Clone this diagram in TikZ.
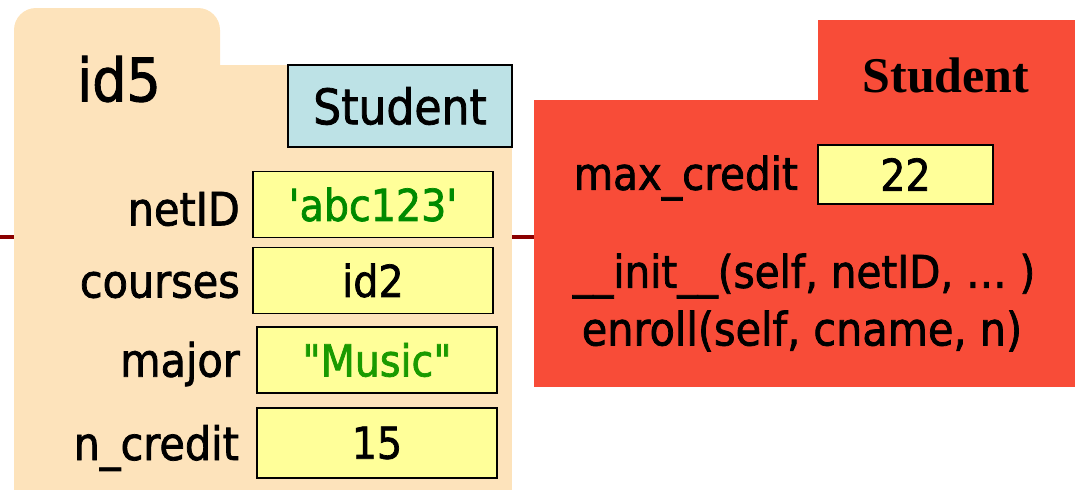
\documentclass[tikz,border=0pt]{standalone}
\usepackage{fontspec}
\setmainfont[FakeBold=1.6, Ligatures=TeXOff]{DejaVu Sans Condensed}
\newfontfamily\serifbold{Liberation Serif}
\definecolor{peach}{HTML}{FDE3BB}
\definecolor{lblue}{HTML}{BDE2E6}
\definecolor{valyellow}{HTML}{FFFF99}
\definecolor{clsred}{HTML}{F84C38}
\definecolor{linered}{HTML}{8B0000}
\definecolor{strgreen}{HTML}{008A00}
\definecolor{strgreenb}{HTML}{1A9A00}
\begin{document}
\begin{tikzpicture}[x=1pt,y=-1pt,
  valbox/.style={draw=black, line width=1.2pt, fill=valyellow, minimum width=240, minimum height=66, inner sep=0pt, font=\fontsize{44}{44}\selectfont},
  fieldlabel/.style={anchor=east, inner sep=0pt, font=\fontsize{46}{46}\selectfont},
  methodtext/.style={inner sep=0pt, font=\fontsize{45}{45}\selectfont}]
\useasboundingbox (0,0) rectangle (1078,490);
\coordinate (lstart) at (0,237);
% object folder
\node (objtab) [fill=peach, rounded corners=22pt, minimum width=206, minimum height=80, inner sep=0pt] at (117,48) {};
\node (objbody) [fill=peach, minimum width=498, minimum height=425, inner sep=0pt] at (263,277.5) {};
% class folder
\node (clstab) [fill=clsred, minimum width=257, minimum height=82, inner sep=0pt] at (946.5,61) {};
\node (clsbody) [fill=clsred, minimum width=541, minimum height=287, inner sep=0pt] at (804.5,243.5) {};
% connector, then folder bodies redrawn over it
\draw[linered, line width=3.5pt] (lstart) -- (clsbody.west |- lstart);
\fill[peach] (objbody.north west) rectangle (objbody.south east);
\fill[clsred] (clsbody.north west) rectangle (clsbody.south east);
% object content
\node (idlabel) [inner sep=0pt, font=\fontsize{60}{60}\selectfont] at (119,79) {id5};
\node (typebox) [draw=black, line width=1.2pt, fill=lblue, minimum width=224, minimum height=82, inner sep=0pt, font=\fontsize{49}{49}\selectfont] at (400,106) {Student};
\node (vnet) [valbox, text=strgreen] at (373,204.5) {'abc123'};
\node (vcourses) [valbox] at (373,280.5) {id2};
\node (vmajor) [valbox, text=strgreenb] at (377,360) {"Music"};
\node (vcredit) [valbox, minimum height=70] at (377,443) {15};
\node (lnet) [fieldlabel] at (240,209) {netID};
\node (lcourses) [fieldlabel] at (240,285) {courses};
\node (lmajor) [fieldlabel] at (240,364) {major};
\node (lcredit) [fieldlabel] at (239,448) {n\_credit};
% class content
\node (clsname) [inner sep=0pt, font=\serifbold\bfseries\fontsize{50}{50}\selectfont] at (946,75) {Student};
\node (vmax) [valbox, minimum width=175, minimum height=59] at (905.5,174.5) {22};
\node (lmax) [fieldlabel, font=\fontsize{45}{45}\selectfont] at (798,178) {max\_credit};
\node (minit) [methodtext] at (804,276) {\_\_init\_\_(self, netID, … )};
\node (menroll) [methodtext, font=\fontsize{46}{46}\selectfont] at (802,331) {enroll(self, cname, n)};
\end{tikzpicture}
\end{document}
